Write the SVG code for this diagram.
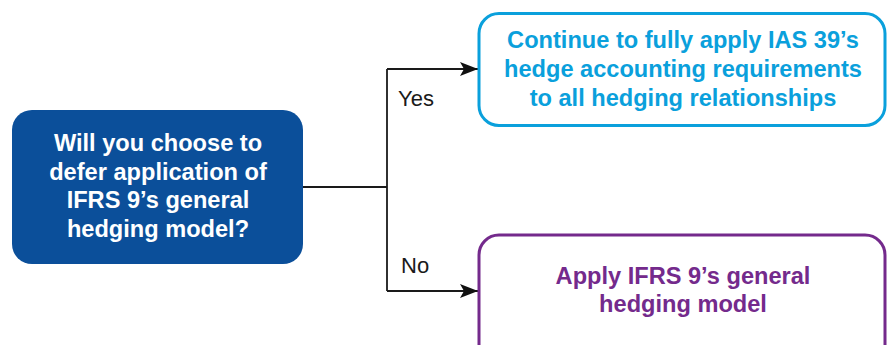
<svg xmlns="http://www.w3.org/2000/svg" width="890" height="345" viewBox="0 0 890 345">
<style>
  .t { font-family: "Liberation Sans", Arial, sans-serif; font-weight: bold; font-size: 23.6px; text-anchor: middle; }
  .lbl { font-family: "Liberation Sans", Arial, sans-serif; font-size: 22px; fill: #1a1a1a; }
  .conn { fill: none; stroke: #1a1a1a; stroke-width: 1.8; }
</style>
<defs>
  <marker id="arr" viewBox="0 0 18 14" refX="18" refY="7" markerWidth="18" markerHeight="14" markerUnits="userSpaceOnUse" orient="auto">
    <path d="M0,0 L18,7 L0,14 L4,7 Z" fill="#111"/>
  </marker>
</defs>
<rect width="890" height="345" fill="#fff"/>
<g id="connectors">
  <path class="conn" d="M303,187 H387"/>
  <path class="conn" d="M387,69 V291"/>
  <path class="conn" d="M387,69 H478" marker-end="url(#arr)"/>
  <path class="conn" d="M387,291 H478" marker-end="url(#arr)"/>
  <text class="lbl" x="398" y="106">Yes</text>
  <text class="lbl" x="401" y="273">No</text>
</g>
<g id="question">
  <rect x="12" y="110" width="291" height="154" rx="20" fill="#0b4f9a"/>
  <text class="t" fill="#fff" x="158" y="151">Will you choose to</text>
  <text class="t" fill="#fff" x="158" y="179.5">defer application of</text>
  <text class="t" fill="#fff" x="158" y="208">IFRS 9’s general</text>
  <text class="t" fill="#fff" x="158" y="236.5">hedging model?</text>
</g>
<g id="yes-box">
  <rect x="479" y="13.5" width="406" height="112" rx="20" fill="#fff" stroke="#0aa0dc" stroke-width="3"/>
  <text class="t" fill="#0aa0dc" x="683" y="47.5">Continue to fully apply IAS 39’s</text>
  <text class="t" fill="#0aa0dc" x="683" y="76.5">hedge accounting requirements</text>
  <text class="t" fill="#0aa0dc" x="683" y="105.5">to all hedging relationships</text>
</g>
<g id="no-box">
  <rect x="479" y="235" width="406" height="130" rx="20" fill="#fff" stroke="#742a8c" stroke-width="3"/>
  <text class="t" fill="#742a8c" x="683" y="284">Apply IFRS 9’s general</text>
  <text class="t" fill="#742a8c" x="683" y="312">hedging model</text>
</g>
</svg>
